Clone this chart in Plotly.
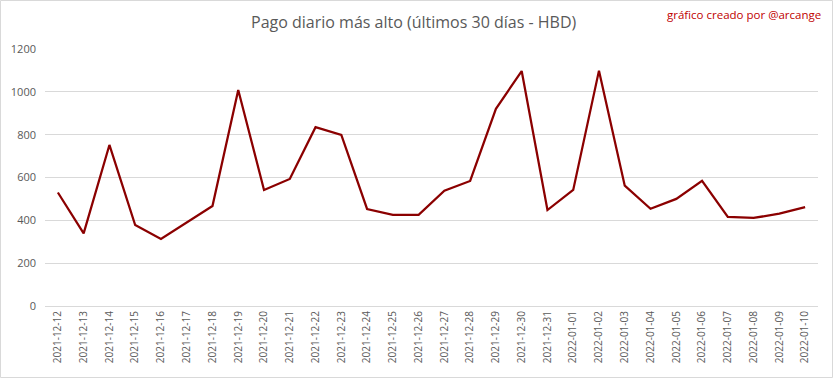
import plotly.graph_objects as go

dates = ["2021-12-12", "2021-12-13", "2021-12-14", "2021-12-15", "2021-12-16", "2021-12-17",
         "2021-12-18", "2021-12-19", "2021-12-20", "2021-12-21", "2021-12-22", "2021-12-23",
         "2021-12-24", "2021-12-25", "2021-12-26", "2021-12-27", "2021-12-28", "2021-12-29",
         "2021-12-30", "2021-12-31", "2022-01-01", "2022-01-02", "2022-01-03", "2022-01-04",
         "2022-01-05", "2022-01-06", "2022-01-07", "2022-01-08", "2022-01-09", "2022-01-10"]
pago_max = [530, 339, 752, 378, 313, 390, 467, 1009, 542, 593, 835, 799,
            453, 426, 426, 538, 584, 921, 1097, 448, 542, 1099, 562, 454,
            500, 584, 416, 411, 431, 462]
y_ticks = [0, 200, 400, 600, 800, 1000, 1200]

title_text = "Pago diario más alto (últimos 30 días - HBD)"
credit_text = "gráfico creado por @arcange"

fig = go.Figure()
fig.add_trace(go.Scatter(
    x=dates, y=pago_max, mode="lines",
    line=dict(color="#8B0000", width=2.25),
    hoverinfo="x+y",
))

L, R, T, B = 45, 15, 49, 73
W, H = 833, 379
pw, ph = W - L - R, H - T - B

def px_to_paper_x(px):
    return (px - L) / pw

def px_to_paper_y(py):
    return (H - B - py) / ph

fig.update_layout(
    width=W, height=H,
    margin=dict(l=L, r=R, t=T, b=B, autoexpand=False),
    paper_bgcolor="white", plot_bgcolor="white",
    showlegend=False,
    font=dict(family="Open Sans, Calibri, sans-serif", color="#595959"),
    xaxis=dict(
        type="category", range=[-0.5, len(dates) - 0.5], automargin=False,
        tickangle=-90, tickfont=dict(size=10, color="#595959"),
        showgrid=False, showline=True, linecolor="#d9d9d9", linewidth=1,
        ticks="", ticklen=0,
    ),
    yaxis=dict(
        range=[0, 1200], tickvals=y_ticks, automargin=False,
        tickfont=dict(size=11, color="#595959"),
        showgrid=True, gridcolor="#d9d9d9", gridwidth=1,
        zeroline=False, showline=False, ticks="", ticklabelstandoff=8,
    ),
    annotations=[
        dict(text=title_text, x=px_to_paper_x(413), y=px_to_paper_y(22.5),
             xref="paper", yref="paper", xanchor="center", yanchor="middle",
             showarrow=False, font=dict(size=16, color="#595959", family="Open Sans")),
        dict(text=credit_text, x=px_to_paper_x(823), y=px_to_paper_y(14.5),
             xref="paper", yref="paper", xanchor="right", yanchor="middle",
             showarrow=False, font=dict(size=11.5, color="#C00000", family="Open Sans")),
    ],
    shapes=[
        dict(type="rect", xref="paper", yref="paper",
             x0=px_to_paper_x(0.5), x1=px_to_paper_x(832.5),
             y0=px_to_paper_y(377.5), y1=px_to_paper_y(0.5),
             line=dict(color="#d9d9d9", width=1), fillcolor="rgba(0,0,0,0)", layer="below"),
    ],
)

fig.write_html("out.html", config={"displayModeBar": False},
               post_script="document.body.style.margin='0';document.body.style.overflow='hidden';")
